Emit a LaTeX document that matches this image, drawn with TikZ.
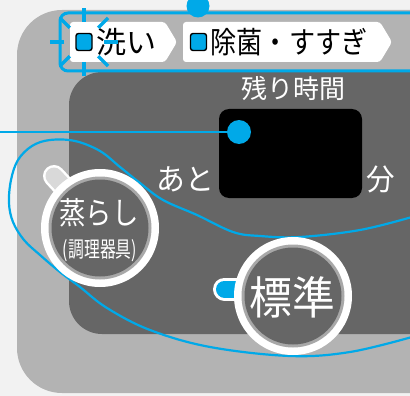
\documentclass[tikz,border=0pt]{standalone}
\usepackage{fontspec}
\usepackage{graphicx}
\usetikzlibrary{calc}
\newfontfamily\jp{Noto Sans CJK JP}
\definecolor{bgc}{HTML}{F2F2F2}
\definecolor{panel}{HTML}{B3B3B3}
\definecolor{dark}{HTML}{666666}
\definecolor{cblue}{RGB}{0,169,232}
\definecolor{ringgray}{HTML}{A8A8A8}
\definecolor{lampgray}{HTML}{D9D9D9}
\tikzset{
  tag/.style={fill=white, rounded corners=3pt},
  sq/.style={fill=cblue, draw=black, line width=1.4pt, rounded corners=2.5pt},
  lbl/.style={inner sep=0pt, font=\jp},
  blink/.style={cblue, line width=3.5pt},
  loopline/.style={cblue, line width=2.2pt},
}
\begin{document}
\begin{tikzpicture}[x=1pt,y=-1pt]
\useasboundingbox (0,0) rectangle (410,396);
\fill[bgc] (0,0) rectangle (410,396);
% outer panel
\fill[panel, rounded corners=45pt] (17,10) rectangle (460,393);
% top band
\fill[panel, rounded corners=8pt] (60,13) rectangle (430,71);
% dark panel
\fill[dark, rounded corners=33pt] (69,72) rectangle (460,334);
\draw[cblue, line width=3pt, rounded corners=8pt] (440,13) -- (60,13) -- (60,71) -- (440,71);
% tags
\fill[tag] (70,22) -- (165,22) -- (177,42) -- (165,62) -- (70,62) -- cycle;
\fill[tag] (183,22) -- (380,22) -- (392,42) -- (380,62) -- (183,62) -- cycle;
\node[sq, inner sep=0pt, minimum width=16pt, minimum height=17pt] (sq1) at (84,42) {};
\node[sq, inner sep=0pt, minimum width=16pt, minimum height=17pt] (sq2) at (198.5,42) {};
\node[lbl] (t1) at (126,42) {\fontsize{30}{30}\selectfont 洗い};
\node[lbl] (t2) at (289,42) {\scalebox{0.87}[1]{\fontsize{30}{30}\selectfont 除菌・すすぎ}};
% remaining time
\node[lbl, text=white] (rest) at (293,89) {\fontsize{26}{26}\selectfont 残り時間};
\fill[black, rounded corners=10pt] (219,109) rectangle (362,198);
\node[lbl, text=white] (ato) at (185,179) {\scalebox{0.96}[1]{\fontsize{30}{30}\selectfont あと}};
\node[lbl, text=white] (fun) at (381,179) {\scalebox{0.95}[1]{\fontsize{30}{30}\selectfont 分}};
% blue loop (behind buttons)
\draw[loopline] plot[smooth, tension=0.6] coordinates {
 (412,217) (360,230) (300,237) (260,236) (233,232) (197,215) (163,200) (140,183)
 (120,167) (100,151) (75,141) (50,140) (32,146) (18,160) (11,180) (9,203)
 (13,222) (24,240) (40,255) (60,272) (80,287) (107,308) (150,330) (210,347)
 (290,356) (350,352) (412,337)};
% lamps
\draw[white, line width=22pt, line cap=round] (54,176) -- (80,204);
\draw[lampgray, line width=17pt, line cap=round] (54,176) -- (80,204);
\draw[white, line width=23pt, line cap=round] (224.5,289) -- (255,289);
\draw[cblue, line width=17pt, line cap=round] (224.5,289) -- (255,289);
% buttons
\foreach \n/\cx/\cy in {b1/100/228, b2/293/296}{
  \fill[white] (\cx,\cy) circle (59);
  \fill[ringgray] (\cx,\cy) circle (51.5);
  \fill[dark] (\cx,\cy) circle (48.5);
  \coordinate (\n) at (\cx,\cy);
}
\node[lbl, text=white] (mushi) at (99,213) {\scalebox{0.85}[1]{\fontsize{31}{31}\selectfont 蒸らし}};
\node[lbl, text=white] (chori) at (100,251) {\scalebox{0.72}[1]{\fontsize{22}{22}\selectfont (調理器具)}};
\node[lbl, text=white] (hyo) at (292,297) {\scalebox{0.95}[1]{\fontsize{45}{45}\selectfont 標準}};
% leader to display
\fill[cblue] (239,132) circle (12) coordinate (d1);
\coordinate (lft) at (0,132);
\draw[cblue, line width=2.5pt] (lft) -- (d1);
% top dot
\fill[cblue] (198,6) circle (11.5) coordinate (d2);
% blink rays
\foreach \a in {0,45,...,315}{
  \draw[blink] ($(84,42)+(\a:20)$) -- ($(84,42)+(\a:34)$);
}
\end{tikzpicture}
\end{document}
